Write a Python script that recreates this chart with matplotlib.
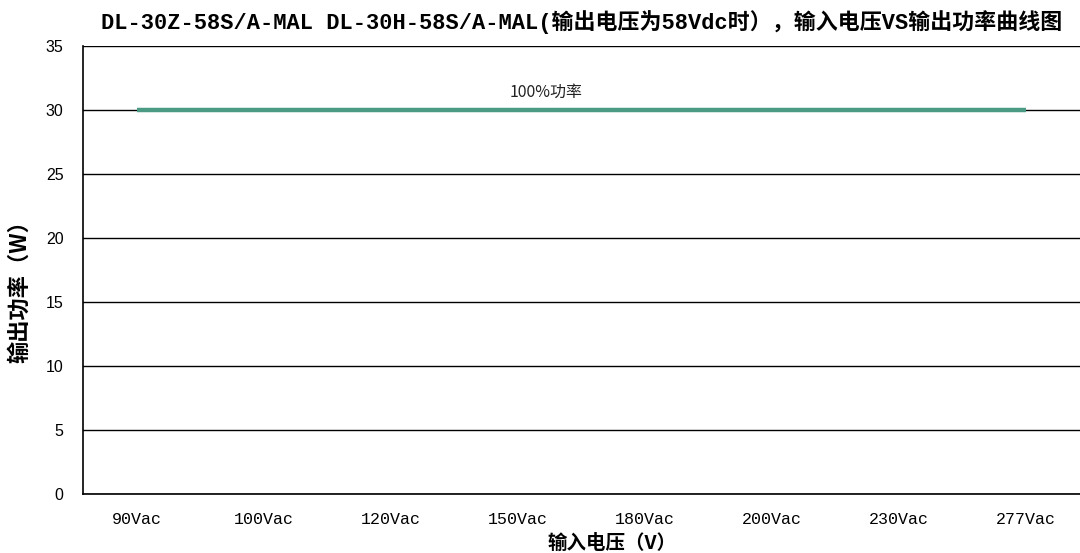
import matplotlib.pyplot as plt

plt.rcParams['font.family'] = ['Noto Sans CJK SC', 'DejaVu Sans']

# input voltage categories and output power (W)
voltages = ["90Vac", "100Vac", "120Vac", "150Vac", "180Vac", "200Vac", "230Vac", "277Vac"]
power = [30, 30, 30, 30, 30, 30, 30, 30]
series_label = "100%功率"

fig = plt.figure(figsize=(10.8, 5.53), dpi=100)
ax = fig.add_axes([0.0769, 0.1067, 0.9231, 0.810])

x = list(range(len(voltages)))
ax.plot(x, power, color='#4a9a84', linewidth=3.2, solid_capstyle='butt', zorder=3)
ax.text(3.22, 31.4, series_label, fontsize=11.5, ha='center', va='center',
        family=['Noto Sans CJK SC', 'DejaVu Sans'], color='#222222')

ax.set_xlim(-0.425, len(voltages) - 1 + 0.425)
ax.set_ylim(0, 35)
ax.set_yticks(range(0, 36, 5))
ax.yaxis.grid(True, color='black', linewidth=1)
ax.set_axisbelow(True)
ax.set_xticks(x)
ax.set_xticklabels(voltages, family=['Liberation Mono'], fontsize=12)
ax.tick_params(axis='y', labelsize=11.5, length=0, pad=14)
ax.tick_params(axis='x', length=0, pad=13)
for lab in ax.get_yticklabels():
    lab.set_family(['Liberation Sans', 'DejaVu Sans'])

ax.spines['top'].set_visible(False)
ax.spines['right'].set_visible(False)
ax.spines['left'].set_linewidth(1.2)
ax.spines['bottom'].set_linewidth(1.2)

fig.text(0.539, 0.96, "DL-30Z-58S/A-MAL DL-30H-58S/A-MAL(输出电压为58Vdc时），输入电压VS输出功率曲线图",
         ha='center', va='center', fontsize=15.8, fontweight='bold',
         family=['Liberation Mono', 'Noto Sans CJK SC'])
fig.text(0.567, 0.018, "输入电压（V）", ha='center', va='center', fontsize=14, fontweight='bold',
         family=['Noto Sans CJK SC'])
fig.text(0.018, 0.483, "输出功率（W）", ha='center', va='center', fontsize=16,
         fontweight='bold', rotation=90, family=['Noto Sans CJK SC'])

fig.savefig("out.png", dpi=100)
